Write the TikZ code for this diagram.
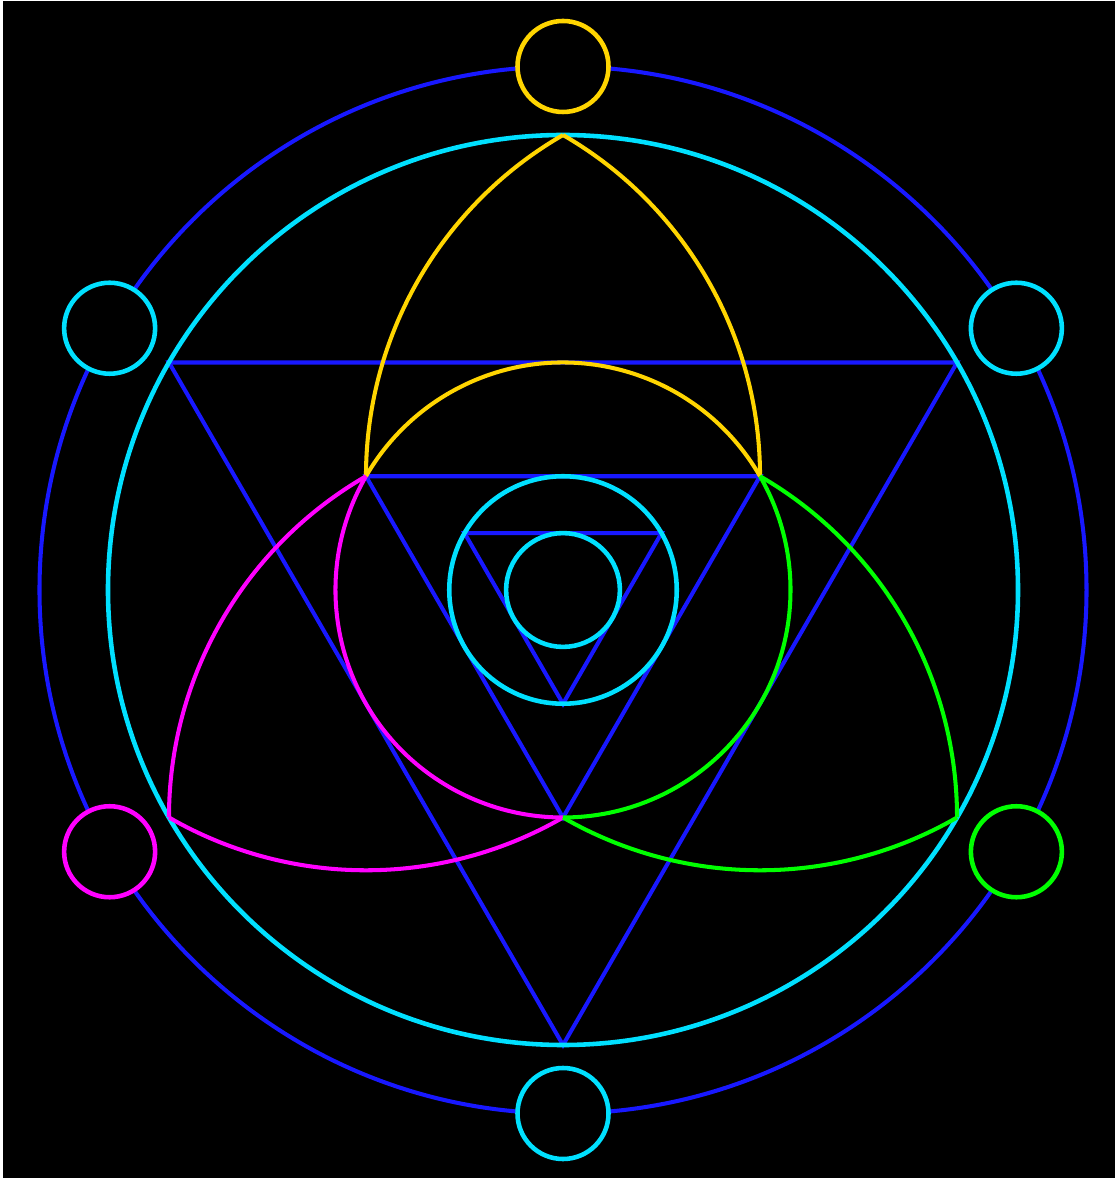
\documentclass[tikz,border=0pt]{standalone}
\usepackage{tikz}
\definecolor{SealBlue}{HTML}{1818FF}
\definecolor{SealCyan}{HTML}{00E0FF}
\definecolor{SealGold}{HTML}{FFD500}
\definecolor{SealPink}{HTML}{FF00FF}
\definecolor{SealGreen}{HTML}{00FF00}
\tikzset{
  rim/.style={draw=SealBlue, line width=1.15pt},
  ring/.style={draw=SealCyan, line width=1.3pt},
  bead/.style={line width=1.3pt, fill=black},
  petal/.style={line width=1.15pt},
}
\begin{document}
\begin{tikzpicture}
  % Page and black backdrop
  \useasboundingbox (-5.63,-5.89) rectangle (5.54,5.90);
  \fill[white] (-5.63,-5.89) rectangle (5.54,5.90);
  \fill[black] (-5.60,-5.88) rectangle (5.52,5.89);

  % Outer blue rim
  \draw[rim] (0,0) circle (5.235);

  % Triangles (all pointing down)
  \draw[rim] (150:4.55) -- (30:4.55) -- (270:4.55) -- cycle;
  \draw[rim] (150:2.275) -- (30:2.275) -- (270:2.275) -- cycle;
  \draw[rim] (150:1.1375) -- (30:1.1375) -- (270:1.1375) -- cycle;

  % Cyan rings
  \draw[ring] (0,0) circle (4.55);
  \draw[ring] (0,0) circle (1.1375);
  \draw[ring] (0,0) circle (0.569);

  % Three petals, each with its share of the middle circle
  \foreach \turn/\tone in {0/SealGold, 120/SealPink, -120/SealGreen} {
    \begin{scope}[rotate=\turn]
      \draw[petal, draw=\tone] (150:2.275) arc[start angle=180, end angle=120, radius=3.94];
      \draw[petal, draw=\tone] (30:2.275) arc[start angle=0, end angle=60, radius=3.94];
      \draw[petal, draw=\tone] (30:2.275) arc[start angle=30, end angle=150, radius=2.275];
    \end{scope}
  }

  % Beads on the rim
  \draw[bead, draw=SealGold] (90:5.235) circle (0.455);
  \draw[bead, draw=SealCyan] (150:5.235) circle (0.455);
  \draw[bead, draw=SealCyan] (30:5.235) circle (0.455);
  \draw[bead, draw=SealPink] (210:5.235) circle (0.455);
  \draw[bead, draw=SealGreen] (330:5.235) circle (0.455);
  \draw[bead, draw=SealCyan] (270:5.235) circle (0.455);
\end{tikzpicture}
\end{document}
